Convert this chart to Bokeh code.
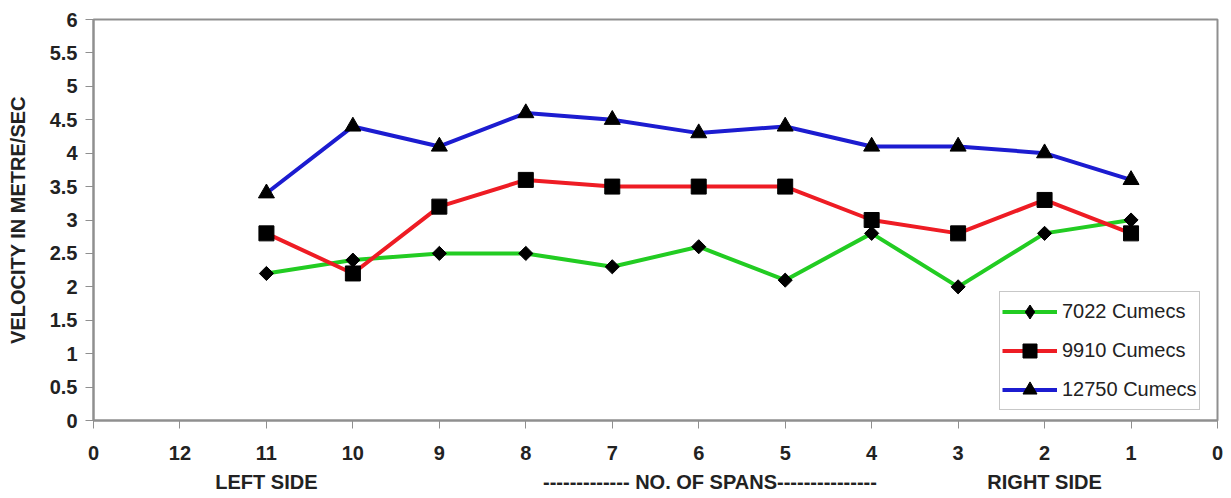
import math
from bokeh.plotting import figure
from bokeh.models import Range1d, FixedTicker, Legend, LegendItem, CustomJSTickFormatter, LinearAxis
from bokeh.embed import file_html
from bokeh.resources import INLINE

# ---- data ----
tick_labels = ["0", "12", "11", "10", "9", "8", "7", "6", "5", "4", "3", "2", "1", "0"]
spans = ["11", "10", "9", "8", "7", "6", "5", "4", "3", "2", "1"]
q7022 = [2.2, 2.4, 2.5, 2.5, 2.3, 2.6, 2.1, 2.8, 2.0, 2.8, 3.0]
q9910 = [2.8, 2.2, 3.2, 3.6, 3.5, 3.5, 3.5, 3.0, 2.8, 3.3, 2.8]
q12750 = [3.4, 4.4, 4.1, 4.6, 4.5, 4.3, 4.4, 4.1, 4.1, 4.0, 3.6]
series_names = ["7022 Cumecs", "9910 Cumecs", "12750 Cumecs"]
y_ticks = [0, 0.5, 1, 1.5, 2, 2.5, 3, 3.5, 4, 4.5, 5, 5.5, 6]
bottom_texts = ["LEFT SIDE", "------------- NO. OF SPANS---------------", "RIGHT SIDE"]

x_pos = [tick_labels.index(s) for s in spans]

FONT = "Liberation Sans"
GRAY = "#8f8f8f"
TXT = "#222222"

p = figure(width=1225, height=497,
           x_range=Range1d(0, len(tick_labels) - 1), y_range=Range1d(0, 6),
           output_backend="svg", toolbar_location=None,
           min_border_left=93, min_border_right=8, min_border_top=19, min_border_bottom=77)

p.background_fill_color = "white"
p.border_fill_color = "white"
p.outline_line_color = GRAY
p.outline_line_width = 2
p.xgrid.visible = False
p.ygrid.visible = False

# x axis
p.xaxis.ticker = FixedTicker(ticks=list(range(len(tick_labels))))
p.xaxis.major_label_overrides = {i: t for i, t in enumerate(tick_labels)}
# y axis
p.yaxis.ticker = FixedTicker(ticks=y_ticks)
p.yaxis.formatter = CustomJSTickFormatter(code="return tick.toString();")
p.yaxis.axis_label = "VELOCITY IN METRE/SEC"

for ax in (p.xaxis[0], p.yaxis[0]):
    ax.axis_line_color = GRAY
    ax.axis_line_width = 2
    ax.major_tick_line_color = GRAY
    ax.major_tick_line_width = 1
    ax.major_tick_in = 0
    ax.major_tick_out = 8
    ax.minor_tick_line_color = None
    ax.major_label_text_font = FONT
    ax.major_label_text_font_style = "bold"
    ax.major_label_text_font_size = "20px"
    ax.major_label_text_color = TXT
    ax.axis_label_text_font = FONT
    ax.axis_label_text_font_style = "bold"
    ax.axis_label_text_font_size = "20px"
    ax.axis_label_text_color = TXT

p.xaxis.major_label_standoff = 17
p.yaxis.major_label_standoff = 8
p.yaxis.axis_label_standoff = 18

# second (label-only) axis below for the side / span captions
bottom_pos = [2, 7.13, 11]
cap = LinearAxis(ticker=FixedTicker(ticks=bottom_pos),
                 major_label_overrides={k: t for k, t in zip(bottom_pos, bottom_texts)})
cap.axis_line_color = None
cap.major_tick_line_color = None
cap.minor_tick_line_color = None
cap.major_tick_in = 0
cap.major_tick_out = 0
cap.major_label_standoff = 8
cap.major_label_text_font = FONT
cap.major_label_text_font_style = "bold"
cap.major_label_text_font_size = "20px"
cap.major_label_text_color = TXT
p.add_layout(cap, "below")

colors = ["#22cc22", "#ee1c24", "#1c1cd0"]
values = [q7022, q9910, q12750]

items = []
for i, (vals, col, name) in enumerate(zip(values, colors, series_names)):
    ln = p.line(x_pos, vals, line_color=col, line_width=4)
    if i == 0:
        sc = p.scatter(x_pos, vals, marker="square", size=10, angle=math.pi / 4,
                       fill_color="black", line_color="black")
        # legend-only diamond glyph (not drawn in the plot)
        lg = p.scatter(x_pos, vals, marker="diamond", size=20,
                       fill_color="black", line_color="black", visible=False)
        rends = [ln, lg]
    elif i == 1:
        sc = p.scatter(x_pos, vals, marker="square", size=15,
                       fill_color="black", line_color="black")
        rends = [ln, sc]
    else:
        sc = p.scatter(x_pos, vals, marker="triangle", size=16,
                       fill_color="black", line_color="black")
        rends = [ln, sc]
    items.append(LegendItem(label=name, renderers=rends))

legend = Legend(items=items, location=(906, 10))
legend.label_text_font = FONT
legend.label_text_font_size = "20px"
legend.label_text_color = TXT
legend.glyph_width = 55
legend.glyph_height = 35
legend.label_height = 35
legend.label_standoff = 5
legend.spacing = 4
legend.padding = 2
legend.margin = 0
legend.border_line_color = GRAY
legend.border_line_width = 1.5
legend.background_fill_color = "white"
legend.background_fill_alpha = 1
p.add_layout(legend, "center")

open("out.html", "w").write(file_html(p, INLINE))
